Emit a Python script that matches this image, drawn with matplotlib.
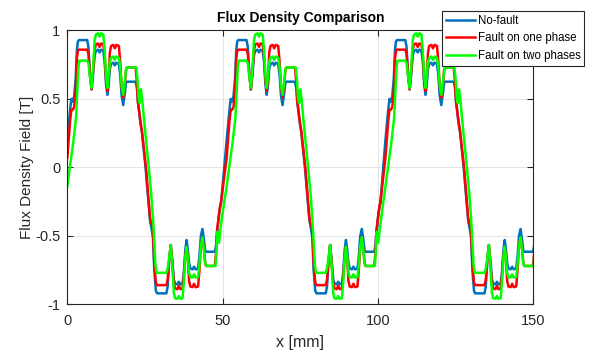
import matplotlib.pyplot as plt

# one period of each trace as (x [mm], B [T]) pairs
no_fault = [
    (0.0, 0.20), (0.9, 0.42), (1.3, 0.50), (1.7, 0.48), (2.2, 0.52), (2.7, 0.65),
    (3.1, 0.86), (3.4, 0.92), (3.7, 0.93), (6.4, 0.93), (6.8, 0.88), (7.3, 0.68),
    (7.8, 0.57), (8.3, 0.68), (8.8, 0.82), (9.2, 0.85), (9.9, 0.86), (10.4, 0.84),
    (10.9, 0.86), (11.6, 0.85), (12.0, 0.78), (12.5, 0.60), (12.9, 0.53), (13.3, 0.60),
    (13.7, 0.72), (14.1, 0.755), (14.8, 0.765), (15.3, 0.745), (15.8, 0.765), (16.6, 0.755),
    (17.0, 0.68), (17.5, 0.52), (18.0, 0.455), (18.5, 0.54), (18.9, 0.62), (19.2, 0.626),
    (22.0, 0.626), (22.4, 0.58), (22.7, 0.50), (23.4, 0.35), (23.7, 0.30), (24.0, 0.26),
    (25.2, 0.0), (26.6, -0.38), (26.9, -0.42), (27.3, -0.47), (27.6, -0.52), (28.0, -0.75),
    (28.5, -0.90), (28.9, -0.92), (31.9, -0.92), (32.3, -0.87), (32.8, -0.68), (33.3, -0.567),
    (33.8, -0.68), (34.3, -0.82), (34.7, -0.847), (35.4, -0.855), (35.9, -0.835), (36.4, -0.855),
    (37.1, -0.847), (37.5, -0.77), (38.0, -0.60), (38.4, -0.53), (38.8, -0.60), (39.2, -0.70),
    (39.6, -0.737), (40.3, -0.745), (40.8, -0.725), (41.3, -0.745), (42.1, -0.737), (42.5, -0.66),
    (43.0, -0.50), (43.5, -0.45), (44.0, -0.53), (44.4, -0.61), (44.7, -0.616), (47.5, -0.616),
    (47.9, -0.57), (48.2, -0.48), (48.9, -0.33), (49.2, -0.29), (49.5, -0.26),
]

one_phase = [
    (0.0, 0.07), (0.9, 0.34), (1.3, 0.42), (1.7, 0.42), (2.2, 0.44), (2.7, 0.56),
    (3.1, 0.80), (3.4, 0.85), (3.7, 0.86), (6.4, 0.86), (6.8, 0.83), (7.3, 0.68),
    (7.8, 0.57), (8.3, 0.70), (8.8, 0.86), (9.2, 0.90), (9.9, 0.905), (10.4, 0.88),
    (10.9, 0.905), (11.6, 0.90), (12.0, 0.82), (12.5, 0.63), (12.9, 0.56), (13.3, 0.64),
    (13.7, 0.84), (14.1, 0.887), (14.8, 0.895), (15.3, 0.87), (15.8, 0.895), (16.6, 0.887),
    (17.0, 0.78), (17.5, 0.58), (18.0, 0.51), (18.5, 0.60), (18.9, 0.71), (19.2, 0.73),
    (22.0, 0.73), (22.4, 0.62), (22.7, 0.48), (23.4, 0.36), (23.7, 0.31), (24.0, 0.27),
    (25.3, 0.0), (26.6, -0.36), (26.9, -0.41), (27.3, -0.42), (27.6, -0.48), (28.0, -0.70),
    (28.5, -0.84), (28.9, -0.86), (31.9, -0.86), (32.3, -0.82), (32.8, -0.68), (33.3, -0.567),
    (33.8, -0.70), (34.3, -0.85), (34.7, -0.883), (35.4, -0.89), (35.9, -0.865), (36.4, -0.89),
    (37.1, -0.883), (37.5, -0.80), (38.0, -0.64), (38.4, -0.58), (38.8, -0.66), (39.2, -0.83),
    (39.6, -0.87), (40.3, -0.875), (40.8, -0.85), (41.3, -0.875), (42.1, -0.87), (42.5, -0.76),
    (43.0, -0.57), (43.5, -0.51), (44.0, -0.60), (44.4, -0.70), (44.7, -0.72), (47.5, -0.72),
    (47.9, -0.62), (48.2, -0.46), (48.9, -0.33), (49.2, -0.28), (49.5, -0.25),
]

two_phases = [
    (0.0, -0.14), (0.5, -0.05), (1.9, 0.18), (2.8, 0.36), (3.2, 0.55), (3.6, 0.74),
    (3.9, 0.78), (6.4, 0.78), (6.8, 0.76), (7.3, 0.66), (7.8, 0.58), (8.3, 0.72),
    (8.8, 0.93), (9.2, 0.97), (9.9, 0.98), (10.4, 0.955), (10.9, 0.98), (11.6, 0.97),
    (12.0, 0.86), (12.5, 0.66), (12.9, 0.58), (13.3, 0.66), (13.7, 0.77), (14.1, 0.80),
    (14.8, 0.81), (15.3, 0.785), (15.8, 0.81), (16.6, 0.80), (17.0, 0.74), (17.5, 0.59),
    (18.0, 0.53), (18.5, 0.62), (18.9, 0.71), (19.2, 0.73), (22.2, 0.73), (22.6, 0.64),
    (23.0, 0.50), (23.3, 0.47), (23.7, 0.57), (24.1, 0.50), (24.7, 0.35), (26.0, 0.05),
    (27.0, -0.19), (27.6, -0.38), (28.0, -0.55), (28.4, -0.72), (28.8, -0.77), (31.9, -0.77),
    (32.3, -0.74), (32.8, -0.66), (33.3, -0.567), (33.8, -0.72), (34.3, -0.92), (34.7, -0.956),
    (35.4, -0.96), (35.9, -0.94), (36.4, -0.96), (37.1, -0.956), (37.5, -0.84), (38.0, -0.65),
    (38.4, -0.58), (38.8, -0.66), (39.2, -0.77), (39.6, -0.80), (40.3, -0.805), (40.8, -0.78),
    (41.3, -0.805), (42.1, -0.80), (42.5, -0.72), (43.0, -0.57), (43.5, -0.51), (44.0, -0.60),
    (44.4, -0.70), (44.7, -0.72), (47.7, -0.72), (48.0, -0.62), (48.3, -0.47), (48.8, -0.55),
    (49.3, -0.45), (49.8, -0.36),
]

# where each pole period starts along x
period_starts = [0.0, 51.3, 102.4]

labels = ["No-fault", "Fault on one phase", "Fault on two phases"]
colors = ["#0072BD", "#FF0000", "#00FF00"]


def full_trace(pts):
    xs, ys = [], []
    for x0 in period_starts:
        for x, y in pts:
            xs.append(x0 + x)
            ys.append(y)
    return xs, ys


plt.rcParams['font.family'] = ['Liberation Sans', 'DejaVu Sans']
plt.rcParams['axes.unicode_minus'] = False

fig = plt.figure(figsize=(5.94, 3.52), dpi=100)
ax = fig.add_axes([0.1133, 0.1355, 0.7845, 0.7779])

for pts, lab, c in zip([no_fault, one_phase, two_phases], labels, colors):
    xs, ys = full_trace(pts)
    ax.plot(xs, ys, color=c, lw=1.8, label=lab, solid_joinstyle="round")

ax.set_xlim(0, 150)
ax.set_ylim(-1, 1)
ax.set_xticks([0, 50, 100, 150])
ax.set_yticks([-1, -0.5, 0, 0.5, 1])
ax.set_yticklabels(["-1", "-0.5", "0", "0.5", "1"])
ax.grid(True, color="#e3e3e3", lw=0.7)
ax.set_axisbelow(True)
ax.tick_params(direction="in", top=True, right=True, length=4, width=0.8,
               colors="#262626", labelsize=10.5)
ax.tick_params(axis="x", pad=7)
ax.tick_params(axis="y", pad=5)
for s in ax.spines.values():
    s.set_color("#262626")
    s.set_linewidth(0.8)

ax.set_xlabel("x [mm]", fontsize=11.5, color="#262626", labelpad=5)
ax.set_ylabel("Flux Density Field [T]", fontsize=11, color="#262626", labelpad=1)
ax.set_title("Flux Density Comparison", fontsize=10, fontweight="bold", pad=6)

leg = fig.legend(loc="upper right", bbox_to_anchor=(0.984, 0.968), fontsize=8.3,
                 frameon=True, fancybox=False, edgecolor="#262626", framealpha=1,
                 handlelength=2.5, handletextpad=0.25, borderpad=0.35,
                 labelspacing=0.45, borderaxespad=0)
leg.get_frame().set_linewidth(0.8)

fig.savefig("out.png", dpi=100)
